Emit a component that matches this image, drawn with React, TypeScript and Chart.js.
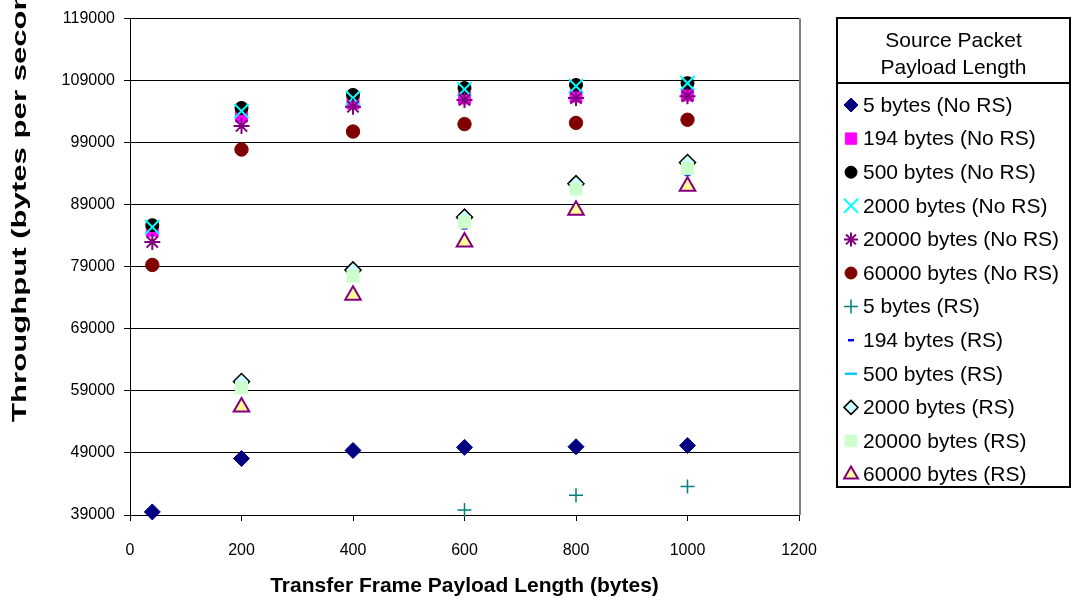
import React, { useEffect, useRef } from "react";
import { Chart, registerables } from "chart.js";
import { drawPoint } from "chart.js/helpers";

Chart.register(...registerables);

// ---------- data ----------
const frameLengths = [40, 200, 400, 600, 800, 1000];

const s5NoRS = [39500, 48100, 49400, 49900, 50000, 50200];
const s194NoRS = [84900, 103300, 105400, 106200, 106500, 106700];
const s500NoRS = [85700, 104600, 106700, 107800, 108300, 108600];
const s2000NoRS = [85400, 104100, 106200, 107600, 108100, 108600];
const s20000NoRS = [83000, 101700, 104800, 105900, 106200, 106500];
const s60000NoRS = [79300, 97900, 100800, 102000, 102200, 102700];
const s5RS = [null, null, null, 39800, 42200, 43600];
const s194RS = [null, 59500, 77500, 85200, 91500, 93800];
const s500RS = [null, 59800, 77800, 86300, 91700, 94700];
const s2000RS = [null, 60500, 78500, 87000, 92400, 95800];
const s20000RS = [null, 59500, 77500, 86200, 91500, 94800];
const s60000RS = [null, 56400, 74400, 83000, 88100, 92000];

const seriesLabels = [
  "5 bytes (No RS)",
  "194 bytes (No RS)",
  "500 bytes (No RS)",
  "2000 bytes (No RS)",
  "20000 bytes (No RS)",
  "60000 bytes (No RS)",
  "5 bytes (RS)",
  "194 bytes (RS)",
  "500 bytes (RS)",
  "2000 bytes (RS)",
  "20000 bytes (RS)",
  "60000 bytes (RS)",
];
const seriesValues = [
  s5NoRS, s194NoRS, s500NoRS, s2000NoRS, s20000NoRS, s60000NoRS,
  s5RS, s194RS, s500RS, s2000RS, s20000RS, s60000RS,
];

const legendTitle = ["Source Packet", "Payload Length"];
const xTitle = "Transfer Frame Payload Length (bytes)";
const yTitle = "Throughput (bytes per second)";
const yMin = 39000;
const yMax = 119000;
const yStep = 10000;
const xMin = 0;
const xMax = 1200;
const xStep = 200;

// ---------- styles ----------
const markerStyles = [
  { pointStyle: "rectRot", radius: 8, legendRadius: 7, fill: "#000080", stroke: "#000080", width: 1 },
  { pointStyle: "rect", radius: 8.5, legendRadius: 8, fill: "#FF00FF", stroke: "#FF00FF", width: 1 },
  { pointStyle: "circle", radius: 6.5, legendRadius: 6, fill: "#000000", stroke: "#000000", width: 1 },
  { pointStyle: "crossRot", radius: 10, legendRadius: 10, fill: "#00FFFF", stroke: "#00FFFF", width: 2 },
  { pointStyle: "star", radius: 8, legendRadius: 7, fill: "#800080", stroke: "#800080", width: 2 },
  { pointStyle: "circle", radius: 6.7, legendRadius: 6, fill: "#800000", stroke: "#800000", width: 1 },
  { pointStyle: "cross", radius: 7, legendRadius: 7, fill: "#008080", stroke: "#008080", width: 1.5 },
  { pointStyle: "line", radius: 3, legendRadius: 3, fill: "#0000FF", stroke: "#0000FF", width: 2.5 },
  { pointStyle: "line", radius: 6, legendRadius: 6, fill: "#00CCFF", stroke: "#00CCFF", width: 2.5 },
  { pointStyle: "rectRot", radius: 8, legendRadius: 7, fill: "#CCFFFF", stroke: "#000000", width: 1.5 },
  { pointStyle: "rect", radius: 8.5, legendRadius: 8, fill: "#CCFFCC", stroke: "#CCFFCC", width: 1 },
  { pointStyle: "triangle", radius: 9, legendRadius: 8, fill: "#FFFF99", stroke: "#800080", width: 2 },
];

const FONT = '"Liberation Sans", Arial, sans-serif';

const decorPlugin = {
  id: "decor",
  afterDraw(chart: any) {
    const ctx = chart.ctx as CanvasRenderingContext2D;
    const ca = chart.chartArea;
    ctx.save();
    // gray right border of plot area
    ctx.strokeStyle = "#808080";
    ctx.lineWidth = 2;
    ctx.beginPath();
    ctx.moveTo(ca.right + 1, ca.top);
    ctx.lineTo(ca.right + 1, ca.bottom);
    ctx.stroke();

    // y title (rotated, stretched to match)
    ctx.fillStyle = "#000";
    ctx.font = `bold 20px ${FONT}`;
    ctx.textAlign = "left";
    ctx.textBaseline = "middle";
    ctx.save();
    ctx.translate(20, 422);
    ctx.rotate(-Math.PI / 2);
    const w = ctx.measureText(yTitle).width;
    const target = 460;
    ctx.scale(target / w, 1);
    ctx.fillText(yTitle, 0, 0);
    ctx.restore();

    // legend box
    const L = 837, R = 1070, T = 18, B = 487, D = 83;
    ctx.strokeStyle = "#000";
    ctx.lineWidth = 2;
    ctx.strokeRect(L, T, R - L, B - T);
    ctx.beginPath();
    ctx.moveTo(L, D);
    ctx.lineTo(R, D);
    ctx.stroke();

    ctx.font = `21px ${FONT}`;
    ctx.textAlign = "center";
    ctx.fillText(legendTitle[0], (L + R) / 2, 41);
    ctx.fillText(legendTitle[1], (L + R) / 2, 68);

    ctx.textAlign = "left";
    chart.data.datasets.forEach((ds: any, i: number) => {
      const y = 105 + i * 33.6;
      const m = markerStyles[i];
      ctx.save();
      ctx.fillStyle = m.fill;
      ctx.strokeStyle = m.stroke;
      ctx.lineWidth = m.width;
      drawPoint(ctx, { pointStyle: m.pointStyle as any, rotation: 0, radius: m.legendRadius, borderWidth: m.width }, 851, y);
      ctx.restore();
      ctx.fillStyle = "#000";
      ctx.fillText(ds.label, 863, y + 1);
    });
    ctx.restore();
  },
};

export default function App() {
  const canvasRef = useRef<HTMLCanvasElement | null>(null);

  useEffect(() => {
    const canvas = canvasRef.current;
    if (!canvas) return;
    const n = seriesValues.length;
    const datasets = seriesValues.map((vals, i) => {
      const m = markerStyles[i];
      return {
        label: seriesLabels[i],
        data: frameLengths.map((x, j) => ({ x, y: vals[j] })),
        showLine: false,
        order: n - i,
        pointStyle: m.pointStyle,
        pointRadius: m.radius,
        pointHoverRadius: m.radius,
        backgroundColor: m.fill,
        borderColor: m.stroke,
        pointBorderWidth: m.width,
        borderWidth: m.width,
        clip: false,
      };
    });
    const chart = new Chart(canvas, {
      type: "scatter",
      data: { datasets: datasets as any },
      plugins: [decorPlugin],
      options: {
        animation: false,
        responsive: false,
        layout: { padding: { top: 15, right: 273, left: 0, bottom: 0 } },
        plugins: {
          legend: { display: false },
          tooltip: { enabled: false },
        },
        scales: {
          x: {
            type: "linear",
            min: xMin,
            max: xMax,
            ticks: {
              stepSize: xStep,
              color: "#000",
              font: { family: FONT, size: 16 },
              padding: 20,
              maxRotation: 0,
              callback: (v: any) => String(v),
            },
            grid: { drawOnChartArea: false, drawTicks: true, tickLength: 6, color: "#000" },
            border: { color: "#000", width: 1 },
            title: {
              display: true,
              text: xTitle,
              color: "#000",
              font: { family: FONT, size: 21, weight: "bold" },
              padding: { top: 6 },
            },
            afterFit(scale: any) {
              scale.height = 88;
            },
          },
          y: {
            type: "linear",
            min: yMin,
            max: yMax,
            ticks: {
              stepSize: yStep,
              color: "#000",
              font: { family: FONT, size: 16 },
              padding: 9,
              callback: (v: any) => String(v),
            },
            grid: { color: "#000", lineWidth: 1, drawTicks: true, tickLength: 6, tickColor: "#000" },
            border: { color: "#000", width: 1 },
            afterFit(scale: any) {
              scale.width = 130;
            },
          },
        },
      } as any,
    });
    return () => chart.destroy();
  }, []);

  return (
    <div style={{ position: "fixed", left: 0, top: 0, width: 1072, height: 603, background: "#fff" }}>
      <canvas ref={canvasRef} width={1072} height={603} style={{ width: 1072, height: 603, display: "block" }} />
    </div>
  );
}
